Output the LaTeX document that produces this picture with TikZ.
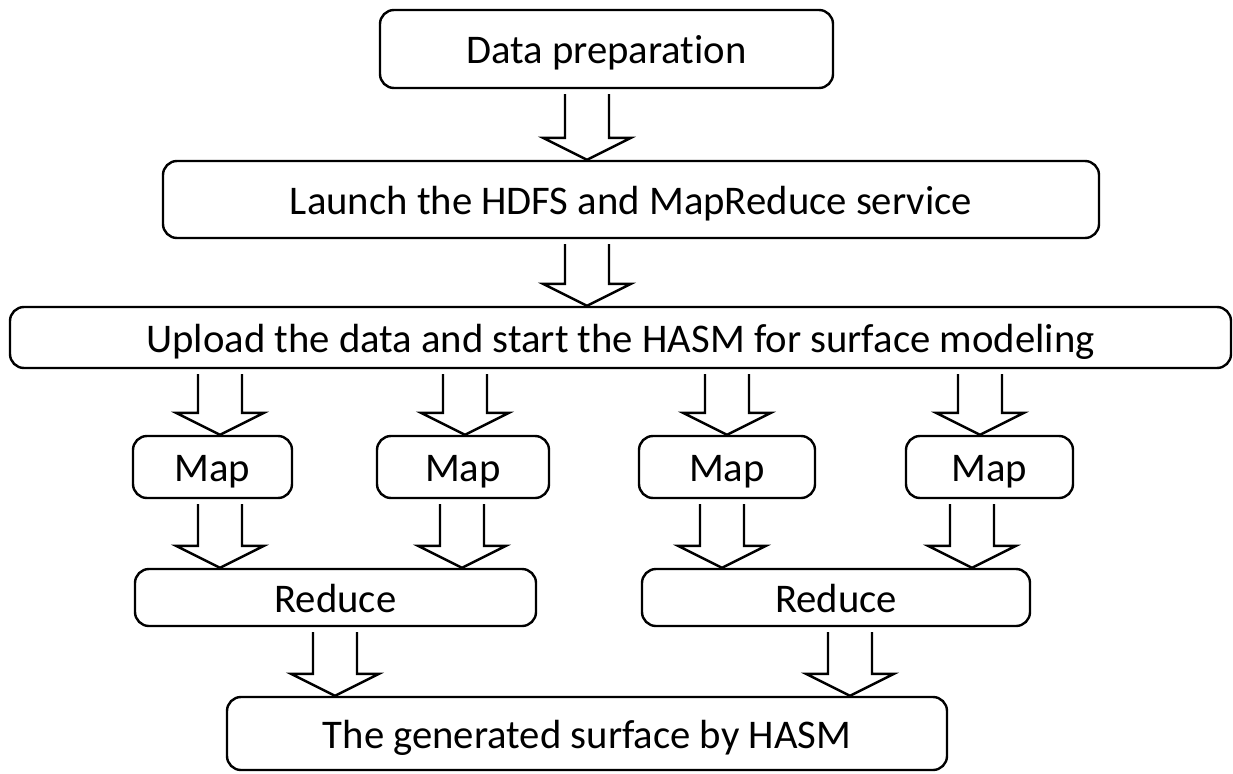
\documentclass[tikz,border=0pt]{standalone}
\usepackage{fontspec}
\setmainfont[Ligatures=NoCommon]{Carlito}
\usetikzlibrary{calc}
\tikzset{
  box/.style={draw, line width=2.4pt, rounded corners=14pt, inner sep=0pt,
    font=\fontsize{40.7}{42}\selectfont, text height=37pt, text depth=8pt},
  blk/.style={draw, line width=2.4pt, line join=miter},
}
\newcommand\blockarrow[3]{%
  \draw[blk] let \p1=(#2.south), \p2=(#3.north) in
    ({#1pt-22pt},{\y1-5pt}) -- ({#1pt-22pt},{\y2+22pt}) -- ({#1pt-44pt},{\y2+22pt})
    -- ({#1pt},{\y2}) -- ({#1pt+44pt},{\y2+22pt}) -- ({#1pt+22pt},{\y2+22pt})
    -- ({#1pt+22pt},{\y1-5pt});
}
\begin{document}
\begin{tikzpicture}[x=1pt,y=-1pt]
\useasboundingbox (0,0) rectangle (1233,773);
\node[box, minimum width=453pt, minimum height=78pt] (data) at (606.5,49) {Data preparation};
\node[box, minimum width=936pt, minimum height=77pt] (launch) at (631,199.5) {Launch the HDFS and MapReduce service};
\node[box, minimum width=1221pt, minimum height=61pt] (upload) at (620.5,337.5) {Upload the data and start the HASM for surface modeling};
\node[box, minimum width=159pt, minimum height=62pt] (map1) at (212.5,467) {Map};
\node[box, minimum width=172pt, minimum height=62pt] (map2) at (463,467) {Map};
\node[box, minimum width=176pt, minimum height=62pt] (map3) at (727,467) {Map};
\node[box, minimum width=167pt, minimum height=62pt] (map4) at (989.5,467) {Map};
\node[box, minimum width=401pt, minimum height=57pt] (red1) at (335.5,597.5) {Reduce};
\node[box, minimum width=388pt, minimum height=57pt] (red2) at (836,597.5) {Reduce};
\node[box, minimum width=720pt, minimum height=73pt] (surf) at (587,733.5) {The generated surface by HASM};

\blockarrow{587}{data}{launch}
\blockarrow{587}{launch}{upload}
\blockarrow{220}{upload}{map1}
\blockarrow{465}{upload}{map2}
\blockarrow{727}{upload}{map3}
\blockarrow{980}{upload}{map4}
\blockarrow{220}{map1}{red1}
\blockarrow{462}{map2}{red1}
\blockarrow{722}{map3}{red2}
\blockarrow{972}{map4}{red2}
\blockarrow{335}{red1}{surf}
\blockarrow{850}{red2}{surf}
\end{tikzpicture}
\end{document}
